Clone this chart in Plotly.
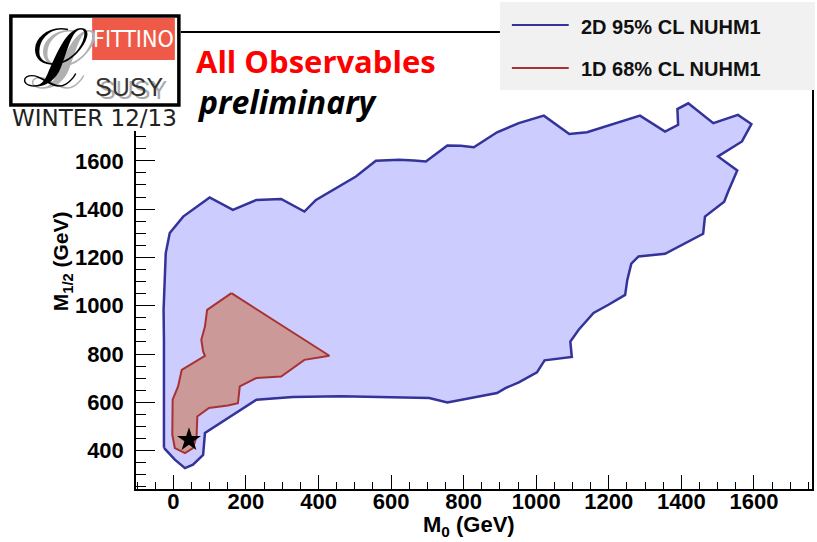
import plotly.graph_objects as go

# 2D 95% CL contour of the NUHM1 fit in the (M0, M1/2) plane, GeV
cl95_m0 = [-26, 4, 32, 54, 82, 87, 229, 329, 462, 650, 705, 755, 833, 892, 915, 952,
           1002, 1023, 1098, 1094, 1117, 1158, 1199, 1245, 1251, 1262, 1282, 1355,
           1460, 1465, 1518, 1529, 1554, 1501, 1567, 1593, 1556, 1488, 1419, 1389,
           1391, 1355, 1286, 1140, 1091, 1021, 952, 892, 828, 792, 755, 696, 663,
           622, 558, 503, 393, 361, 297, 229, 164, 100, 27, -10, -21, -26, -27, -26, -26]
cl95_m12 = [412, 363, 328, 342, 383, 473, 611, 622, 625, 619, 618, 600, 622, 639, 659,
            683, 724, 774, 788, 852, 901, 970, 1004, 1045, 1107, 1174, 1204, 1215,
            1298, 1369, 1431, 1473, 1560, 1618, 1680, 1752, 1790, 1756, 1838, 1814,
            1749, 1721, 1787, 1718, 1711, 1787, 1756, 1718, 1656, 1662, 1663, 1597,
            1601, 1604, 1600, 1535, 1438, 1390, 1442, 1438, 1397, 1448, 1369, 1301,
            1218, 1066, 983, 859, 412]

# 1D 68% CL region
cl68_m0 = [160, 93, 87, 77, 82, 87, 23, 13, -2, -3, 4, 32, 54, 64, 66, 98, 150, 178,
           183, 229, 297, 361, 430, 160]
cl68_m12 = [1052, 983, 914, 859, 811, 793, 735, 666, 611, 466, 411, 390, 411, 459, 542,
            577, 587, 597, 666, 701, 707, 776, 793, 1052]

# best-fit point
best_m0 = [43]
best_m12 = [445]

x_ticks = [0, 200, 400, 600, 800, 1000, 1200, 1400, 1600]
y_ticks = [400, 600, 800, 1000, 1200, 1400, 1600]

series_names = ["2D 95% CL NUHM1", "1D 68% CL NUHM1"]

BLUE_LINE = "rgb(51,51,153)"
BLUE_FILL = "rgb(204,204,255)"
RED_LINE = "rgb(168,50,50)"
RED_FILL = "rgb(204,153,153)"

W, H = 817, 542
L, R, T, B = 136, 3, 33, 53
PW, PH = W - L - R, H - T - B


def px(x):
    return (x - L) / PW


def py(y):
    return (H - B - y) / PH


fig = go.Figure()
fig.add_trace(go.Scatter(x=cl95_m0, y=cl95_m12, mode="lines", fill="toself",
                         fillcolor=BLUE_FILL, line=dict(color=BLUE_LINE, width=2.5),
                         name=series_names[0], showlegend=False, hoverinfo="skip"))
fig.add_trace(go.Scatter(x=cl68_m0, y=cl68_m12, mode="lines", fill="toself",
                         fillcolor=RED_FILL, line=dict(color=RED_LINE, width=2),
                         name=series_names[1], showlegend=False, hoverinfo="skip"))
fig.add_trace(go.Scatter(x=best_m0, y=best_m12, mode="markers",
                         marker=dict(symbol="star", size=18, color="black"),
                         showlegend=False, hoverinfo="skip"))

axis_font = dict(family="Liberation Sans", size=22, color="black", weight="bold")

fig.update_xaxes(range=[-103, 1760], tickvals=x_ticks, ticktext=[str(v) for v in x_ticks],
                 ticks="inside", ticklen=14, tickwidth=1, tickcolor="black",
                 minor=dict(dtick=50, tick0=0, ticks="inside", ticklen=7, tickcolor="black"),
                 showline=True, linecolor="black", linewidth=1.5, mirror=True,
                 showgrid=False, zeroline=False, tickfont=axis_font, ticklabelstandoff=-8)
fig.update_yaxes(range=[241.5, 2129], tickvals=y_ticks, ticktext=[str(v) for v in y_ticks],
                 ticks="inside", ticklen=19, tickwidth=1, tickcolor="black",
                 minor=dict(dtick=50, tick0=0, ticks="inside", ticklen=10, tickcolor="black"),
                 showline=True, linecolor="black", linewidth=1.5, mirror=True,
                 showgrid=False, zeroline=False, tickfont=axis_font, ticklabelstandoff=6)

shapes = []
annotations = []

# logo panel (covers the frame corner)
shapes.append(dict(type="rect", xref="paper", yref="paper", x0=px(0), x1=px(181),
                   y0=py(131), y1=py(0), fillcolor="white", line=dict(width=0), layer="above"))
shapes.append(dict(type="rect", xref="paper", yref="paper", x0=px(10.5), x1=px(179),
                   y0=py(105), y1=py(16), fillcolor="white",
                   line=dict(color="black", width=3.5), layer="above"))
shapes.append(dict(type="rect", xref="paper", yref="paper", x0=px(92), x1=px(175),
                   y0=py(60), y1=py(18), fillcolor="#ef5a48", line=dict(width=0), layer="above"))

annotations += [
    dict(text="ℒ", x=px(64), y=py(61), font=dict(family="DejaVu Serif", size=80, color="#b0b0b0")),
    dict(text="ℒ", x=px(56), y=py(58), font=dict(family="DejaVu Serif", size=80, color="black")),
    dict(text="FITTINO", x=px(133), y=py(39),
         font=dict(family="DejaVu Sans Condensed, Liberation Sans", size=23, color="white")),
    dict(text="SUSY", x=px(133), y=py(90),
         font=dict(family="Liberation Sans", size=25, color="#aaaaaa")),
    dict(text="SUSY", x=px(129), y=py(87),
         font=dict(family="Liberation Sans", size=25, color="#333333")),
    dict(text="WINTER 12/13", x=px(94), y=py(118),
         font=dict(family="DejaVu Sans", size=23, color="#222222")),
    dict(text="<b>All Observables</b>", x=px(194), y=py(61), xanchor="left",
         font=dict(family="Open Sans", size=31, color="#ff0000")),
    dict(text="<b><i>preliminary</i></b>", x=px(195), y=py(101), xanchor="left",
         font=dict(family="Open Sans", size=32, color="black")),
]

# legend panel
shapes.append(dict(type="rect", xref="paper", yref="paper", x0=px(501), x1=px(817),
                   y0=py(90), y1=py(2), fillcolor="#f1f1f1", line=dict(width=0), layer="above"))
for yy, col in [(25, BLUE_LINE), (68, RED_LINE)]:
    shapes.append(dict(type="line", xref="paper", yref="paper", x0=px(513), x1=px(570),
                       y0=py(yy), y1=py(yy), line=dict(color=col, width=2), layer="above"))
for yy, name in [(27, series_names[0]), (69, series_names[1])]:
    annotations.append(dict(text="<b>%s</b>" % name, x=px(580), y=py(yy), xanchor="left",
                            font=dict(family="Liberation Sans", size=20, color="#111111")))

# axis titles
annotations.append(dict(text="<b>M<sub>0</sub> (GeV)</b>", x=px(470), y=py(526),
                        font=dict(family="Liberation Sans", size=22, color="black")))
annotations.append(dict(text="<b>M<sub>1/2</sub> (GeV)</b>", x=px(62), y=py(261), textangle=-90,
                        font=dict(family="Liberation Sans", size=21, color="black")))

for a in annotations:
    a.setdefault("xref", "paper")
    a.setdefault("yref", "paper")
    a.setdefault("showarrow", False)
    a.setdefault("xanchor", "center")
    a.setdefault("yanchor", "middle")

fig.update_layout(width=W, height=H, margin=dict(l=L, r=R, t=T, b=B),
                  paper_bgcolor="white", plot_bgcolor="white",
                  shapes=shapes, annotations=annotations, showlegend=False)

fig.write_html("out.html")
